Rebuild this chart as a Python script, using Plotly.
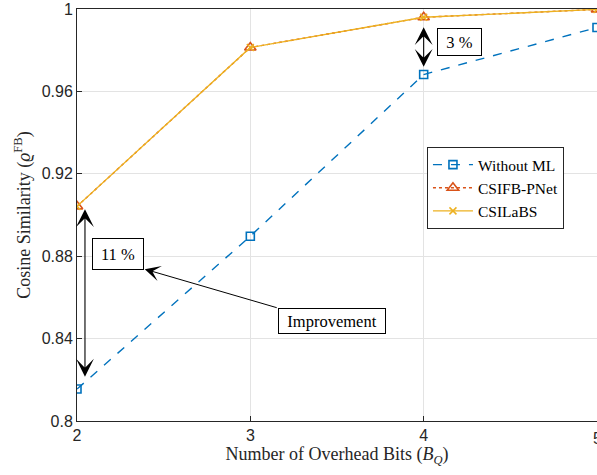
import plotly.graph_objects as go

# Overhead bits on the x axis
bits = [2, 3, 4, 5]

# Cosine similarity for each scheme
without_ml = [0.8155, 0.8897, 0.9682, 0.9910]
csifb_pnet = [0.9042, 0.9813, 0.9960, 0.9998]
csilabs = [0.9042, 0.9813, 0.9960, 0.9998]

y_ticks = [0.8, 0.84, 0.88, 0.92, 0.96, 1.0]
y_tick_text = ["0.8", "0.84", "0.88", "0.92", "0.96", "1"]

BLUE = "#0072BD"
ORANGE = "#D95319"
YELLOW = "#EDB120"
AXIS = "#262626"
SERIF = "Liberation Serif"
SANS = "Liberation Sans"

fig = go.Figure()

fig.add_trace(go.Scatter(
    x=bits, y=without_ml, name="Without ML", mode="lines+markers",
    line=dict(color=BLUE, width=1.4, dash="dash"),
    marker=dict(symbol="square-open", size=8, color=BLUE, line=dict(width=1.6)),
))
fig.add_trace(go.Scatter(
    x=bits, y=csifb_pnet, name="CSIFB-PNet", mode="lines+markers",
    line=dict(color=ORANGE, width=1.4, dash="dot"),
    marker=dict(symbol="triangle-up-open", size=10, color=ORANGE, line=dict(width=1.6)),
))
fig.add_trace(go.Scatter(
    x=bits, y=csilabs, name="CSILaBS", mode="lines+markers",
    line=dict(color=YELLOW, width=1.4),
    marker=dict(symbol="x-thin", size=7, color=YELLOW, line=dict(width=1.5, color=YELLOW)),
))

arrow_common = dict(
    xref="x", yref="y", axref="x", ayref="y", text="", showarrow=True,
    arrowhead=3, startarrowhead=3, arrowside="end+start",
    arrowsize=2.7, startarrowsize=2.7, arrowwidth=1.1, arrowcolor="black",
)

# Gap between schemes at 2 bits
fig.add_annotation(x=2.046, y=0.9028, ax=2.046, ay=0.8208, **arrow_common)
# Gap between schemes at 4 bits
fig.add_annotation(x=4.0, y=0.9912, ax=4.0, ay=0.9712, **arrow_common)

box_common = dict(
    xref="x", yref="y", showarrow=False, bordercolor="black", borderwidth=1,
    bgcolor="white", borderpad=1, font=dict(family=SERIF, size=16.5, color="black"),
)
fig.add_annotation(x=2.236, y=0.881, text="11 %", width=48, height=28, **box_common)
fig.add_annotation(x=4.207, y=0.9842, text="3 %", width=41, height=24, **box_common)

# Pointer from the label to the 11 % box
fig.add_annotation(
    x=2.391, y=0.8737, ax=3.161, ay=0.8548, xref="x", yref="y", axref="x", ayref="y",
    text="", showarrow=True, arrowhead=3, arrowsize=2.6, arrowwidth=1.0, arrowcolor="black",
)
fig.add_annotation(x=3.471, y=0.8485, text="Improvement", width=104, height=22, **box_common)

# Last x tick label, sitting on the figure edge
fig.add_annotation(
    x=5, y=0, xref="x", yref="paper", text="5", showarrow=False,
    yanchor="top", yshift=-7, font=dict(family=SANS, size=16, color=AXIS),
)

fig.update_layout(
    width=597, height=475,
    margin=dict(l=77, r=0, t=9, b=54),
    plot_bgcolor="white", paper_bgcolor="white",
    showlegend=True,
    legend=dict(
        x=0.673, y=0.665, xanchor="left", yanchor="top",
        bgcolor="white", bordercolor=AXIS, borderwidth=1,
        font=dict(family=SERIF, size=15.5, color="black"),
        itemwidth=40, tracegroupgap=0,
    ),
)

fig.update_xaxes(
    range=[2, 5], tickvals=bits[:-1], ticktext=[str(b) for b in bits[:-1]],
    showgrid=True, gridcolor="#e3e3e3", gridwidth=1,
    showline=True, linecolor=AXIS, linewidth=1, mirror=True,
    ticks="inside", ticklen=5, tickcolor=AXIS, zeroline=False,
    tickfont=dict(family=SANS, size=16, color=AXIS),
    title=dict(text="Number of Overhead Bits (<i>B</i><sub><i>Q</i></sub>)",
               font=dict(family=SERIF, size=18, color=AXIS), standoff=3),
)
fig.update_yaxes(
    range=[0.8, 1.0], tickvals=y_ticks, ticktext=y_tick_text,
    showgrid=True, gridcolor="#e3e3e3", gridwidth=1,
    showline=True, linecolor=AXIS, linewidth=1, mirror=False,
    ticks="inside", ticklen=5, tickcolor=AXIS, zeroline=False,
    tickfont=dict(family=SANS, size=16, color=AXIS),
    title=dict(text="Cosine Similarity (<i>ϱ</i><sup>FB</sup>)",
               font=dict(family=SERIF, size=18, color=AXIS), standoff=6),
)

fig.write_html("out.html")
